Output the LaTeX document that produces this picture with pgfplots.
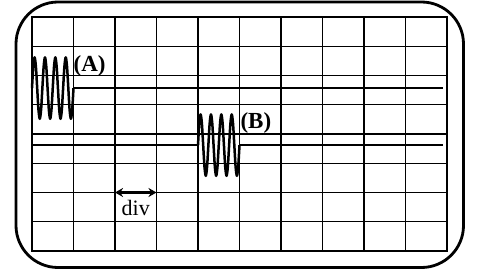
\documentclass[border=0pt]{standalone}
\usepackage{pgfplots}
\pgfplotsset{compat=1.18}
\usepackage{fontspec}
\setmainfont{Liberation Serif}
\usetikzlibrary{arrows.meta}
\begin{document}
\begin{tikzpicture}[x=1pt,y=1pt]
\path[use as bounding box] (-32,-20) rectangle (447,251);
\begin{axis}[
  at={(0,0)}, anchor=origin,
  width=415pt, height=234pt, scale only axis,
  xmin=0, xmax=10, ymin=0, ymax=8,
  xtick={0,...,10}, ytick={0,...,8},
  xticklabels={}, yticklabels={},
  major tick length=0pt,
  grid=major,
  grid style={black, line width=1.2pt},
  axis line style={black, line width=1.2pt},
  clip=false,
]
\addplot[black, line width=2.5pt, smooth, line join=round] coordinates {
(0,5.57)(0.03125,6.312)(0.0625,6.62)(0.09375,6.312)(0.125,5.57)(0.15625,4.828)(0.1875,4.52)(0.21875,4.828)
(0.25,5.57)(0.28125,6.312)(0.3125,6.62)(0.34375,6.312)(0.375,5.57)(0.40625,4.828)(0.4375,4.52)(0.46875,4.828)
(0.5,5.57)(0.53125,6.312)(0.5625,6.62)(0.59375,6.312)(0.625,5.57)(0.65625,4.828)(0.6875,4.52)(0.71875,4.828)
(0.75,5.57)(0.78125,6.312)(0.8125,6.62)(0.84375,6.312)(0.875,5.57)(0.90625,4.828)(0.9375,4.52)(0.96875,4.828)
(1,5.57)};
\addplot[black, line width=2.5pt] coordinates {(1,5.57)(9.9,5.57)};
\addplot[black, line width=2.5pt] coordinates {(0,3.62)(4,3.62)};
\addplot[black, line width=2.5pt, smooth, line join=round] coordinates {
(4,3.62)(4.03125,4.362)(4.0625,4.67)(4.09375,4.362)(4.125,3.62)(4.15625,2.878)(4.1875,2.57)(4.21875,2.878)
(4.25,3.62)(4.28125,4.362)(4.3125,4.67)(4.34375,4.362)(4.375,3.62)(4.40625,2.878)(4.4375,2.57)(4.46875,2.878)
(4.5,3.62)(4.53125,4.362)(4.5625,4.67)(4.59375,4.362)(4.625,3.62)(4.65625,2.878)(4.6875,2.57)(4.71875,2.878)
(4.75,3.62)(4.78125,4.362)(4.8125,4.67)(4.84375,4.362)(4.875,3.62)(4.90625,2.878)(4.9375,2.57)(4.96875,2.878)
(5,3.62)};
\addplot[black, line width=2.5pt] coordinates {(5,3.62)(9.9,3.62)};
\draw[black, line width=2.6pt, {Stealth[length=8pt,width=9pt]}-{Stealth[length=8pt,width=9pt]}] (axis cs:2,2) -- (axis cs:3,2);
\node[anchor=base, font=\fontsize{22}{24}\selectfont, inner sep=0pt] at (axis cs:2.5,1.2) {div};
\node[anchor=base west, font=\fontsize{23}{25}\selectfont\bfseries, inner sep=0pt] at (axis cs:1.0,6.12) {(A)};
\node[anchor=base west, font=\fontsize{23}{25}\selectfont\bfseries, inner sep=0pt] at (axis cs:5.02,4.2) {(B)};
\end{axis}
\draw[black, line width=2.8pt, rounded corners=42pt] (-16,-16.5) rectangle (431.5,249);
\end{tikzpicture}
\end{document}
